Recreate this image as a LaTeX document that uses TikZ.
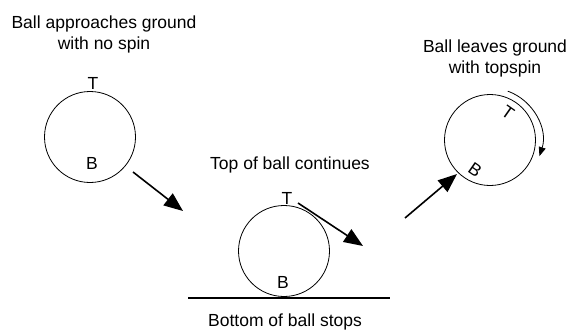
\documentclass[tikz,border=0pt]{standalone}
\usepackage{fontspec}
\setmainfont{Liberation Sans}
\usetikzlibrary{arrows.meta}

\begin{document}
\begin{tikzpicture}[x=1pt, y=1pt,
  ball/.style={draw, circle, line width=0.8pt, minimum size=91pt, inner sep=0pt},
  txt/.style={font=\fontsize{17.5}{21}\selectfont, align=center, inner sep=0pt},
  move/.style={line width=1.6pt, -{Triangle[length=19pt, width=15pt]}},
  spin/.style={line width=0.8pt, -{Triangle[length=9pt, width=7pt]}}
]
\useasboundingbox (0,0) rectangle (575,333);

% Balls
\node[ball] (ball1) at (90,196)  {};
\node[ball] (ball2) at (284,82)  {};
\node[ball] (ball3) at (490,193) {};

% Marks on the balls
\node[txt] (t1) at (93,250) {T};
\node[txt] (b1) at (92,170) {B};
\node[txt] (t2) at (287,135) {T};
\node[txt] (b2) at (283,51)  {B};
\node[txt, rotate=-35] (t3) at (508,220) {T};
\node[txt, rotate=-35] (b3) at (475,163) {B};

% Captions
\node[txt] (cap1) at (104,299) {Ball approaches ground\\with no spin};
\node[txt] (cap2) at (290,168) {Top of ball continues};
\node[txt] (cap3) at (285,11)  {Bottom of ball stops};
\node[txt] (cap4) at (495,275) {Ball leaves ground\\with topspin};

% Ground
\coordinate (gl) at (188,35);
\coordinate (gr) at (390,35);
\draw[line width=1.2pt] (gl) -- (gr);

% Motion arrows
\coordinate (m1s) at (133,161);
\coordinate (m1e) at (183,122);
\coordinate (m2s) at (298,130);
\coordinate (m2e) at (363,87);
\coordinate (m3s) at (405,115);
\coordinate (m3e) at (457,159);
\draw[move] (m1s) -- (m1e);
\draw[move] (m2s) -- (m2e);
\draw[move] (m3s) -- (m3e);

% Topspin
\draw[spin] (ball3.center) ++(70:52) arc[start angle=70, end angle=-18, radius=52];
\end{tikzpicture}
\end{document}
